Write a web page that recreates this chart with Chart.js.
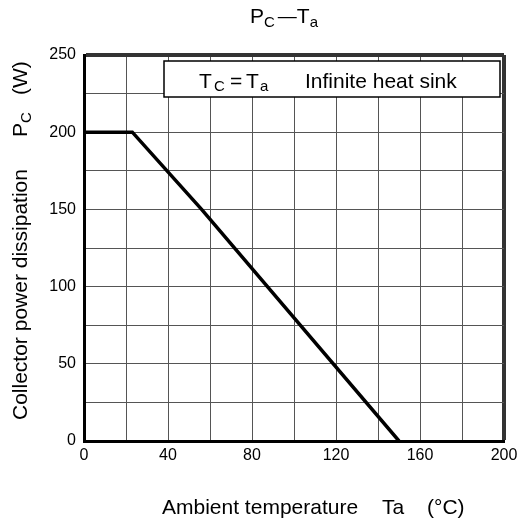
<!DOCTYPE html>
<html>
<head>
<meta charset="utf-8">
<script src="https://cdn.jsdelivr.net/npm/chart.js@4/dist/chart.umd.min.js"></script>
<style>
  body { margin: 0; background: #fff; }
  #wrap { width: 525px; height: 523px; }
</style>
</head>
<body>
<div id="wrap"><canvas id="pcChart" width="525" height="523"></canvas></div>
<script>
// derating curve
const tempC = [0, 23, 56, 150];
const powerW = [200, 200, 150, 0];

const xLabelStep = 40;
const yLabelStep = 50;

const FONT = "'Liberation Sans', Arial, sans-serif";

// draw a run of text pieces one after another (used for subscripts)
function drawPieces(ctx, x, y, pieces) {
  pieces.forEach(p => {
    ctx.font = p.size + 'px ' + FONT;
    ctx.fillText(p.t, x, y + (p.dy || 0));
    x += ctx.measureText(p.t).width + (p.gap || 0);
  });
}

// title, axis titles and the note box, all drawn on top of the chart
const labelsPlugin = {
  id: 'labels',
  afterDraw(chart) {
    const ctx = chart.ctx;
    const a = chart.chartArea;
    ctx.save();
    ctx.fillStyle = '#000';
    ctx.textAlign = 'left';
    ctx.textBaseline = 'alphabetic';

    // title  P_C - T_a
    drawPieces(ctx, 250, 23, [
      {t: 'P', size: 21},
      {t: 'C', size: 15, dy: 4, gap: 3},
      {t: '\u2014', size: 19, dy: -1},
      {t: 'T', size: 21},
      {t: 'a', size: 15, dy: 4}
    ]);

    // note box
    const bx = a.left + 80, by = a.top + 6;
    ctx.fillStyle = '#fff';
    ctx.fillRect(bx, by, a.right - 4 - bx, 36);
    ctx.strokeStyle = '#000';
    ctx.lineWidth = 1.5;
    ctx.strokeRect(bx, by, a.right - 4 - bx, 36);
    ctx.fillStyle = '#000';
    const base = by + 27;
    ctx.font = '21px ' + FONT; ctx.fillText('T', bx + 35, base);
    ctx.font = '15px ' + FONT; ctx.fillText('C', bx + 50, base + 3);
    ctx.font = '21px ' + FONT; ctx.fillText('=', bx + 66, base);
    ctx.fillText('T', bx + 82, base);
    ctx.font = '15px ' + FONT; ctx.fillText('a', bx + 96, base + 3);
    ctx.font = '21px ' + FONT; ctx.fillText('Infinite heat sink', bx + 141, base);

    // x axis title
    ctx.font = '21px ' + FONT;
    ctx.fillText('Ambient temperature', a.left + 78, 514);
    ctx.fillText('Ta', a.left + 298, 514);
    ctx.fillText('(\u00B0C)', a.left + 343, 514);

    // y axis title, rotated
    ctx.translate(27, a.bottom - 21);
    ctx.rotate(-Math.PI / 2);
    ctx.font = '21px ' + FONT;
    ctx.fillText('Collector power dissipation', 0, 0);
    ctx.fillText('P', 283, 0);
    ctx.font = '15px ' + FONT;
    ctx.fillText('C', 297, 4);
    ctx.font = '21px ' + FONT;
    ctx.fillText('(W)', 325, 0);
    ctx.restore();
  }
};

const pcChart = new Chart(document.getElementById('pcChart'), {
  type: 'line',
  data: {
    datasets: [{
      data: tempC.map((t, i) => ({x: t, y: powerW[i]})),
      borderColor: '#000',
      borderWidth: 3.5,
      pointRadius: 0,
      fill: false,
      tension: 0
    }]
  },
  options: {
    responsive: false,
    animation: false,
    layout: { padding: { top: 55, right: 21, left: 0, bottom: 0 } },
    plugins: { legend: { display: false }, title: { display: false }, tooltip: { enabled: false } },
    scales: {
      x: {
        type: 'linear',
        min: 0, max: 200,
        ticks: {
          stepSize: 20,
          padding: 5,
          color: '#000',
          font: { family: FONT, size: 16 },
          maxRotation: 0,
          autoSkip: false,
          callback: v => (v % xLabelStep === 0 ? v : '')
        },
        grid: {
          drawTicks: false,
          color: c => (c.tick && c.tick.value === 200 ? '#333' : '#555'),
          lineWidth: c => (c.tick && c.tick.value === 200 ? 4 : 1)
        },
        border: { display: true, color: '#000', width: 3 },
        afterFit: s => { s.height = 82; }
      },
      y: {
        min: 0, max: 250,
        ticks: {
          stepSize: 25,
          padding: 8,
          color: '#000',
          font: { family: FONT, size: 16 },
          autoSkip: false,
          callback: v => (v % yLabelStep === 0 ? v : '')
        },
        grid: {
          drawTicks: false,
          color: c => (c.tick && c.tick.value === 250 ? '#333' : '#555'),
          lineWidth: c => (c.tick && c.tick.value === 250 ? 4 : 1)
        },
        border: { display: true, color: '#000', width: 3 },
        afterFit: s => { s.width = 84; }
      }
    }
  },
  plugins: [labelsPlugin]
});
</script>
</body>
</html>
